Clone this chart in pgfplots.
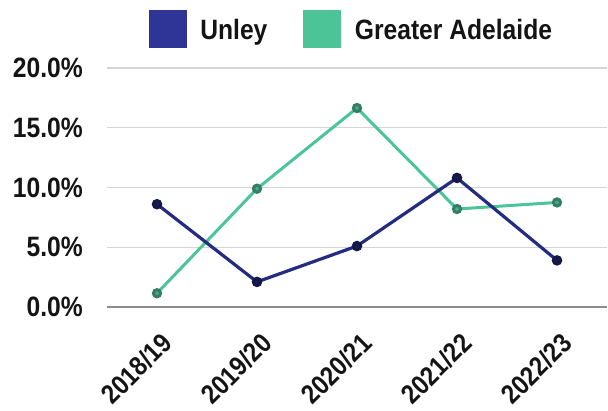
\documentclass[border=0pt]{standalone}
\usepackage{pgfplots}
\pgfplotsset{compat=1.18}
\usepackage{fontspec}
\setmainfont{Liberation Sans}[FakeStretch=0.88]
\definecolor{unley}{HTML}{242C80}
\definecolor{unleyKey}{HTML}{2F3596}
\definecolor{adl}{HTML}{4CC49A}
\definecolor{adlKey}{HTML}{4DC497}
\definecolor{gridc}{HTML}{D4D4D4}
\definecolor{txt}{HTML}{141414}
\begin{document}
\begin{tikzpicture}
\begin{axis}[
  scale only axis,
  width=500pt, height=239pt,
  xmin=-0.5, xmax=4.5,
  ymin=0, ymax=20,
  xtick={0,1,2,3,4},
  xticklabels={2018/19,2019/20,2020/21,2021/22,2022/23},
  ytick={0,5,10,15,20},
  yticklabel={\pgfmathprintnumber[fixed,fixed zerofill,precision=1]{\tick}\%},
  /pgf/number format/assume math mode=true,
  axis x line*=bottom, axis y line*=left,
  y axis line style={draw=none},
  x axis line style={draw=black!45, line width=1.4pt, -},
  major tick length=0pt,
  ymajorgrids,
  grid style={gridc, line width=1.2pt},
  tick label style={text=txt},
  y tick label style={font=\fontsize{28}{30}\selectfont\bfseries, inner sep=0pt, xshift=-24pt},
  % shifts below are taken along the rotated label
  x tick label style={font=\fontsize{27}{29}\selectfont\bfseries, rotate=45, anchor=north east,
    inner sep=0pt, xshift=-15pt, yshift=-19pt},
  legend style={at={(0.489,1)}, anchor=north, yshift=58pt, draw=none, fill=none,
    font=\fontsize{28}{30}\selectfont\bfseries, text=txt,
    legend columns=2, inner sep=0pt,
    /tikz/every odd column/.append style={column sep=12pt},
    /tikz/every even column/.append style={column sep=34pt}},
  legend cell align=left,
]
\addlegendimage{legend image code/.code={\fill[unleyKey] (0pt,-17pt) rectangle (37pt,20pt);}}
\addlegendentry{Unley}
\addlegendimage{legend image code/.code={\fill[adlKey] (0pt,-17pt) rectangle (37pt,20pt);}}
\addlegendentry{Greater Adelaide}

% Greater Adelaide
\addplot[adl, line width=3pt, mark=*, mark size=3.6pt,
  mark options={fill=adl!75!black!85, draw=adl!65!black}]
  coordinates {(0,1.15) (1,9.9) (2,16.65) (3,8.2) (4,8.75)};
% Unley
\addplot[unley, line width=3.2pt, mark=*, mark size=3.6pt,
  mark options={fill=unley!65!black, draw=unley!55!black}]
  coordinates {(0,8.6) (1,2.1) (2,5.1) (3,10.8) (4,3.9)};
\end{axis}
\pgfresetboundingbox
\path ([shift={(-107pt,-104pt)}]current axis.south west)
  rectangle ([shift={(1pt,68pt)}]current axis.north east);
\end{tikzpicture}
\end{document}
